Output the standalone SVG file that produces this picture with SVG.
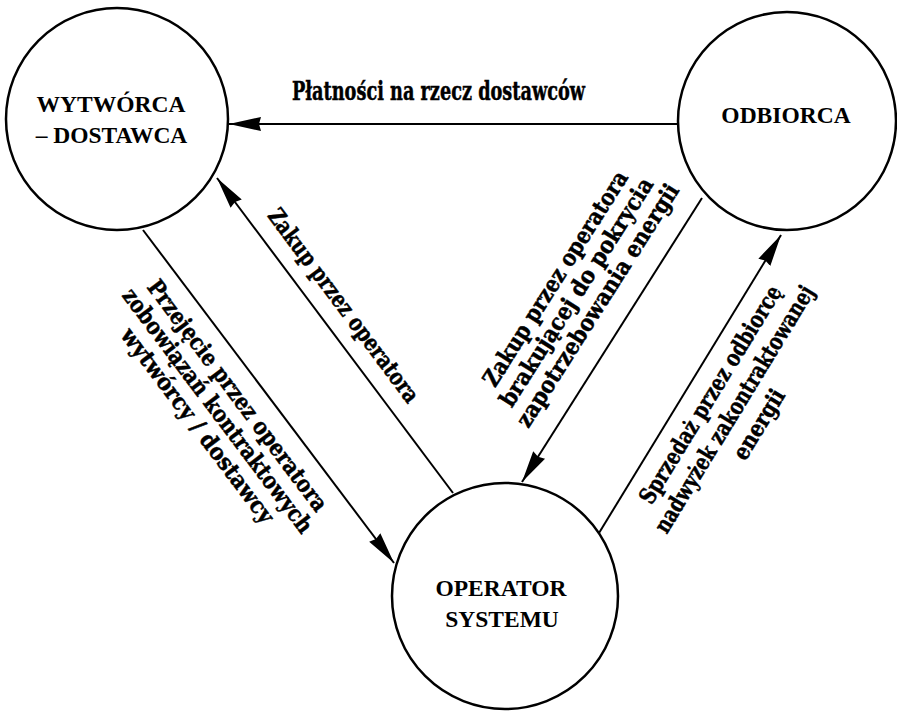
<svg xmlns="http://www.w3.org/2000/svg" width="897" height="713" viewBox="0 0 897 713">
<style>
.node{fill:#fff;stroke:#000;stroke-width:2.5}
.nl{font-family:"Liberation Serif","Times New Roman","Nimbus Roman","Noto Serif","DejaVu Serif",serif;font-weight:bold;font-size:23.5px;fill:#000;text-anchor:middle}
.conn{stroke:#000;stroke-width:2;fill:none;marker-end:url(#ah)}
.el{font-family:"DejaVu Serif","Liberation Serif",serif;font-weight:bold;font-size:23px;fill:#000;stroke:#000;stroke-width:0.5;text-anchor:middle}
.big{font-size:26px}
</style>
<defs>
<marker id="ah" markerUnits="userSpaceOnUse" markerWidth="34" markerHeight="16" viewBox="-32 -8 34 16" refX="0" refY="0" orient="auto">
<path d="M0,0 L-32,-7 L-30,0 L-32,7 Z" fill="#000"/>
</marker>
</defs>
<rect width="897" height="713" fill="#fff"/>
<g id="connectors">
<line class="conn" x1="678" y1="124" x2="229" y2="124"/>
<line class="conn" x1="453" y1="493" x2="217" y2="178"/>
<line class="conn" x1="143" y1="230" x2="394" y2="563"/>
<line class="conn" x1="702" y1="198" x2="522" y2="482"/>
<line class="conn" x1="599" y1="533" x2="781" y2="235"/>
</g>
<g id="edge-labels">
<text class="el big" x="438.5" y="100" textLength="293" lengthAdjust="spacingAndGlyphs">Płatności na rzecz dostawców</text>
<text class="el" transform="translate(343,306) rotate(53.2)" x="0" y="7" textLength="236" lengthAdjust="spacingAndGlyphs">Zakup przez operatora</text>
<g transform="translate(237,396) rotate(53)">
<text class="el" x="0" y="7" textLength="283" lengthAdjust="spacingAndGlyphs">Przejęcie przez operatora</text>
<text class="el" x="0" y="32" textLength="300" lengthAdjust="spacingAndGlyphs">zobowiązań kontraktowych</text>
<text class="el" x="0" y="57" textLength="238" lengthAdjust="spacingAndGlyphs">wytwórcy / dostawcy</text>
</g>
<g transform="translate(556,279) rotate(-57.6)">
<text class="el" x="0" y="7" textLength="250" lengthAdjust="spacingAndGlyphs">Zakup przez operatora</text>
<text class="el" x="0" y="32" textLength="266" lengthAdjust="spacingAndGlyphs">brakującej do pokrycia</text>
<text class="el" x="0" y="57" textLength="283" lengthAdjust="spacingAndGlyphs">zapotrzebowania energii</text>
</g>
<g transform="translate(711,395) rotate(-58.6)">
<text class="el" x="0" y="7" textLength="251" lengthAdjust="spacingAndGlyphs">Sprzedaż przez odbiorcę</text>
<text class="el" x="0" y="35" textLength="285" lengthAdjust="spacingAndGlyphs">nadwyżek zakontraktowanej</text>
<text class="el" x="0" y="64" textLength="78" lengthAdjust="spacingAndGlyphs">energii</text>
</g>
</g>
<g id="wytworca">
<circle class="node" cx="117" cy="119" r="111"/>
<text class="nl" x="111" y="112">WYTWÓRCA</text>
<text class="nl" x="111.5" y="143">– DOSTAWCA</text>
</g>
<g id="odbiorca">
<circle class="node" cx="787" cy="121" r="109"/>
<text class="nl" x="786" y="123">ODBIORCA</text>
</g>
<g id="operator">
<circle class="node" cx="505" cy="596" r="113"/>
<text class="nl" x="501" y="596">OPERATOR</text>
<text class="nl" x="502" y="627">SYSTEMU</text>
</g>
</svg>
